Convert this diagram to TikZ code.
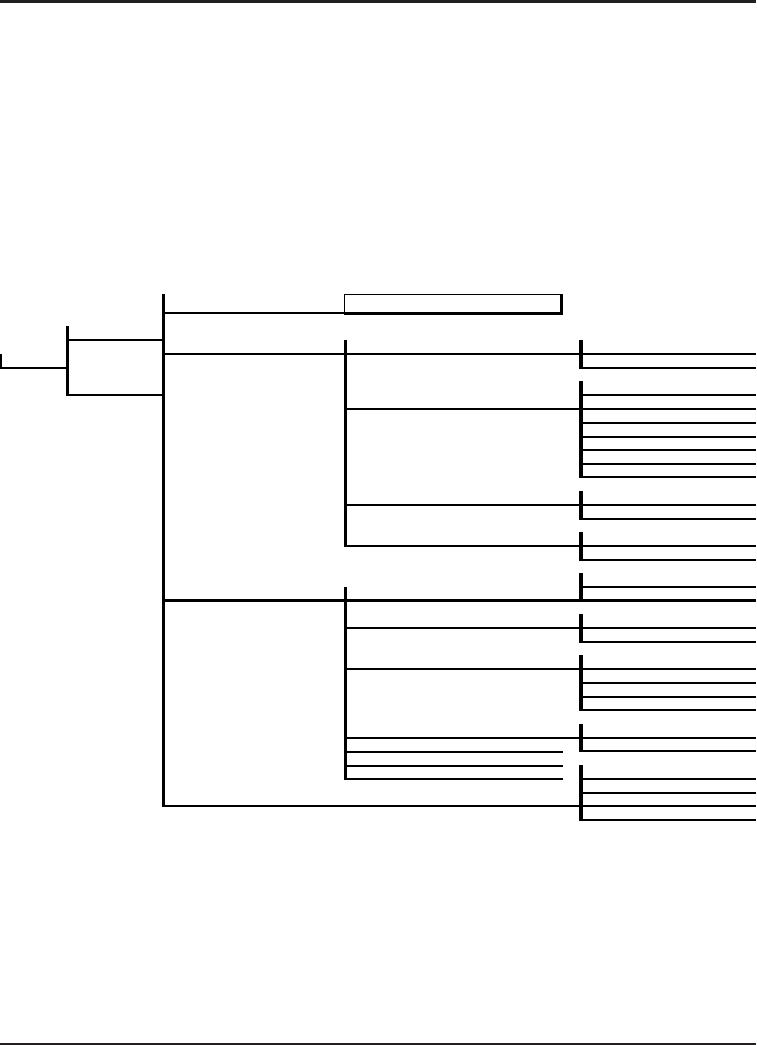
\documentclass[tikz,border=0pt]{standalone}
\usetikzlibrary{calc}
\definecolor{rulegray}{HTML}{231F20}
\tikzset{
 bar/.style={line width=3.6pt},
 link/.style={line width=1.3pt},
 heavy/.style={line width=2.7pt},
}
\begin{document}
\begin{tikzpicture}[x=1pt,y=-1pt]
 \useasboundingbox (0,0) rectangle (756,1045);
 % page rules
 \fill[rulegray] (0,0) rectangle (756,2.5);
 \fill[rulegray] (0,1042.5) rectangle (756,1045);
 % root stub
 \coordinate (root) at (1,368);
 \coordinate (one) at (67.5,368);
 \draw[line width=2pt] (1,354) -- (root);
 \draw[link] (0,368) -- (one);
 % level 1
 \draw[bar] (67.5,326) -- (67.5,396);
 \foreach \y in {340,395} \draw[link] (67.5,\y) -- (163.5,\y);
 % level 2
 \draw[bar] (163.5,294) -- (163.5,807);
 \draw[link] (163.5,313) -- (345,313);
 \draw[link] (163.5,354) -- (345,354);
 \draw[heavy] (163.5,600.5) -- (756,600.5);
 \draw[link] (163.5,806) -- (581,806);
 % box
 \draw[link] (344.5,294.5) rectangle (561,312.5);
 \draw[line width=3pt] (561,294) -- (561,313.5) -- (344,313.5);
 % level 3
 \draw[bar] (345.5,340) -- (345.5,547);
 \foreach \y in {354,409,505,546} \draw[link] (345.5,\y) -- (581,\y);
 \draw[bar] (345.5,587) -- (345.5,780);
 \foreach \y in {628,669,738} \draw[link] (345.5,\y) -- (581,\y);
 \foreach \y in {752,766,779} \draw[link] (345.5,\y) -- (563,\y);
 % level 4
 \foreach \ya/\yb in {340/369,381/478,491/520,532/561,573/601,614/643,655/711,724/752,765/821}
  \draw[bar] (581,\ya) -- (581,\yb);
 \foreach \y in {354,368,395,409,437,450,477,505,519,546,587,628,642,669,683,710,738,751,779,806,820}
  \draw[link] (581,\y) -- (756,\y);
 \foreach \y in {423,464,560,697,793}
  \draw[heavy] (581,\y) -- (756,\y);
\end{tikzpicture}
\end{document}
